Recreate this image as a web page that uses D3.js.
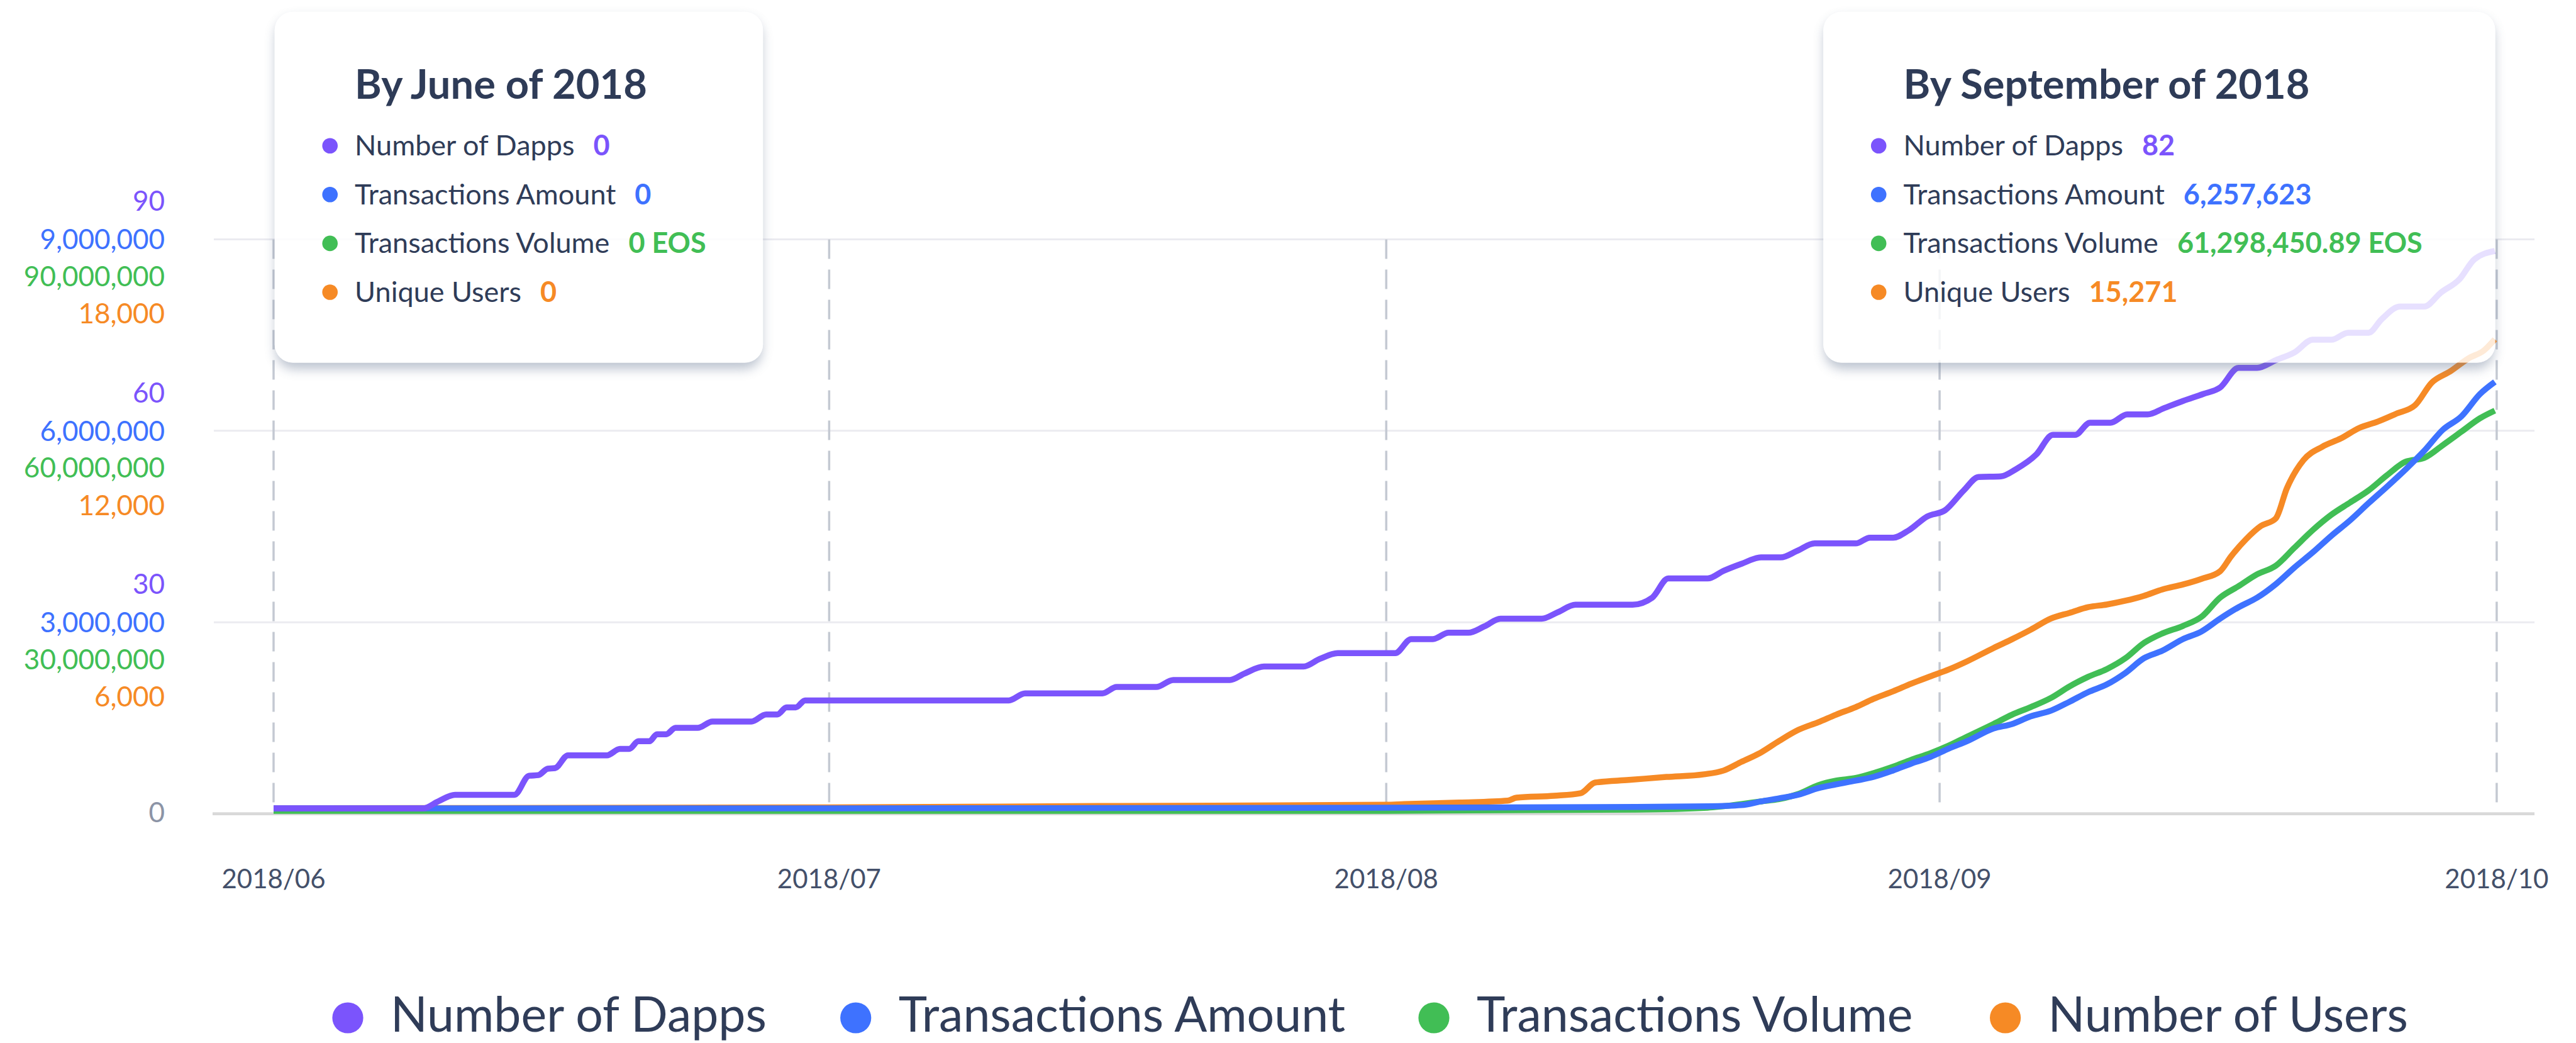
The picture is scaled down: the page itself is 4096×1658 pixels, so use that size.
<!DOCTYPE html>
<html><head><meta charset="utf-8">
<script src="https://cdn.jsdelivr.net/npm/d3@7/dist/d3.min.js"></script>
<style>
html,body{margin:0;padding:0;background:#fff;}
svg{display:block;font-family:Lato,"Open Sans",sans-serif;}
</style>
</head><body>
<svg id="chart" width="4096" height="1658"></svg>
<script>
// ---------- data ----------
const monthLabels = ["2018/06", "2018/07", "2018/08", "2018/09", "2018/10"];
const monthDays = [0, 30, 61, 92, 122];           // days since 2018-06-01
const seriesNames = ["Number of Dapps", "Transactions Amount", "Transactions Volume", "Number of Users"];
const seriesColors = ["#7b54fc", "#3e72ff", "#41be55", "#f68a25"];
const axisMax = [90, 9000000, 90000000, 18000];
const axisFractions = [1/3, 2/3, 1];

// [day, number of dapps]
const dapps = [[0,0],[8.1,0],[8.9,1.1],[9.8,2.1],[13.0,2.1],[13.8,5.1],[14.3,5.2],[14.8,6.2],[15.2,6.3],[15.9,8.3],[18.0,8.3],[18.7,9.3],[19.2,9.3],[19.7,10.5],[20.3,10.5],[20.7,11.6],[21.2,11.6],[21.7,12.6],[22.9,12.6],[23.7,13.6],[25.8,13.6],[26.6,14.7],[27.2,14.7],[27.7,15.8],[28.2,15.8],[28.7,16.9],[40.0,16.9],[40.9,18.0],[45.2,18.0],[46.0,19.0],[48.2,19.0],[49.15,20.1],[52.3,20.1],[53.1,21.1],[54.2,22.2],[56.4,22.2],[57.3,23.4],[58.3,24.3],[61.5,24.3],[62.4,26.5],[63.6,26.5],[64.5,27.5],[65.6,27.5],[66.5,28.5],[67.4,29.7],[69.7,29.7],[70.6,30.7],[71.6,31.9],[74.8,31.9],[75.9,33.0],[76.8,36.0],[79.0,36.0],[79.9,37.2],[80.9,38.3],[82.0,39.3],[83.1,39.3],[84.0,40.3],[85.0,41.5],[87.3,41.5],[88.1,42.4],[89.4,42.4],[90.3,43.6],[91.3,45.7],[92.3,46.7],[93.3,49.8],[94.1,51.9],[95.3,52.0],[96.1,53.1],[97.2,55.4],[98.1,58.5],[99.3,58.5],[100.1,60.4],[101.2,60.4],[102.1,61.7],[103.2,61.7],[104.1,62.7],[105.1,63.8],[106.2,64.9],[107.1,65.9],[108.1,69.0],[109.1,69.0],[110.1,70.2],[111.1,71.4],[112.1,73.4],[113.1,73.4],[114.0,74.5],[115.1,74.5],[115.8,76.6],[116.8,78.6],[118.1,78.6],[119.0,80.8],[120.0,82.9],[120.8,86.0],[121.9,87.3]];

// [day, transactions amount in millions]
const txAmountM = [[0,0],[30,0],[61,0.01],[75,0.02],[79,0.03],[80.9,0.05],[82.0,0.108],[83.0,0.156],[84.1,0.215],[85.2,0.315],[86.2,0.374],[87.3,0.433],[88.3,0.492],[89.4,0.593],[90.4,0.699],[91.5,0.806],[92.5,0.936],[93.5,1.054],[94.9,1.25],[95.9,1.32],[96.9,1.44],[98.0,1.53],[99.0,1.67],[100.0,1.82],[101.0,1.94],[102.0,2.12],[103.0,2.35],[104.0,2.47],[105.1,2.65],[106.1,2.77],[107.1,2.97],[108.1,3.15],[109.1,3.30],[110.1,3.51],[111.1,3.77],[112.1,4.01],[113.1,4.27],[114.1,4.51],[115.1,4.78],[116.1,5.04],[117.1,5.31],[118.1,5.60],[119.1,5.93],[120.1,6.14],[121.1,6.49],[121.9,6.68]];

// [day, transactions volume in millions of EOS]
const txVolumeM = [[0,0],[61,0],[75,0.2],[79,0.5],[80.9,1.07],[82.0,1.48],[83.0,1.83],[84.1,2.66],[85.2,4.02],[86.2,4.73],[87.3,5.15],[88.3,5.91],[89.4,6.92],[90.4,7.98],[91.5,9.05],[92.5,10.23],[93.5,11.65],[94.9,13.6],[95.9,15.07],[96.9,16.25],[98.0,17.7],[99.0,19.5],[100.0,21.0],[101.0,22.2],[102.0,23.9],[103.0,26.3],[104.0,27.8],[105.1,28.97],[106.1,30.4],[107.1,33.4],[108.1,35.2],[109.1,37.06],[110.1,38.4],[111.1,41.2],[112.1,44.0],[113.1,46.4],[114.1,48.3],[115.1,50.2],[116.1,52.6],[117.1,54.7],[118.1,55.3],[119.1,57.3],[120.1,59.4],[121.1,61.5],[121.9,62.7]];

// [day, unique users]
const users = [[0,0],[30,30],[45,70],[61,110],[62,132],[65.1,179],[67.8,238],[68.3,333],[70.4,392],[71.9,475],[72.7,805],[74.6,888],[76.7,982],[78.8,1065],[79.9,1183],[80.9,1455],[82.0,1751],[83.0,2106],[84.1,2460],[85.2,2696],[86.2,2933],[87.3,3169],[88.3,3429],[89.4,3666],[90.4,3902],[91.5,4138],[92.5,4351],[93.5,4611],[94.9,5020],[95.9,5297],[96.9,5592],[98.0,5947],[99.0,6124],[100.0,6302],[101.0,6384],[102.0,6502],[103.0,6656],[104.0,6857],[105.1,7011],[106.1,7188],[107.1,7424],[107.7,7897],[108.5,8429],[109.3,8843],[110.1,9079],[110.7,10025],[111.6,10911],[112.6,11325],[113.6,11585],[114.6,11916],[115.6,12117],[116.6,12365],[117.6,12625],[118.5,13334],[119.5,13689],[120.5,14103],[121.3,14339],[121.9,14694]];

const tipLabels = ["Number of Dapps", "Transactions Amount", "Transactions Volume", "Unique Users"];
const tipJuneTitle = "By June of 2018";
const tipJuneValues = ["0", "0", "0 EOS", "0"];
const tipSepTitle = "By September of 2018";
const tipSepValues = ["82", "6,257,623", "61,298,450.89 EOS", "15,271"];

// ---------- layout ----------
const svg = d3.select("#chart");
const W = 4096, H = 1658;
const yTop = 380.4, yBot = 1293.7;
const x = d3.scaleLinear().domain(monthDays).range([435.0, 1318.4, 2204.2, 3084.1, 3969.9]);
const ys = axisMax.map(m => d3.scaleLinear().domain([0, m]).range([yBot, yTop]));

const series = [
  dapps,
  txAmountM.map(d => [d[0], d[1] * 1e6]),
  txVolumeM.map(d => [d[0], d[1] * 1e6]),
  users
];
const lift = [8.8, 8.8, 4.7, 8.8];
const fmt = d3.format(",");

svg.append("rect").attr("width", W).attr("height", H).attr("fill", "#fff");

const defs = svg.append("defs");
defs.append("filter").attr("id", "blur").attr("x", "-20%").attr("y", "-20%").attr("width", "140%").attr("height", "140%")
  .append("feGaussianBlur").attr("stdDeviation", 9);

// gridlines
const grid = svg.append("g");
axisFractions.forEach(f => {
  const gy = ys[0](axisMax[0] * f);
  grid.append("line").attr("x1", 340).attr("x2", 4030).attr("y1", gy).attr("y2", gy)
    .attr("stroke", "#ebebf0").attr("stroke-width", 3);
});
// dashed month lines
monthDays.forEach(d => {
  grid.append("line").attr("x1", x(d)).attr("x2", x(d)).attr("y1", yTop).attr("y2", yBot - 4)
    .attr("stroke", "#c4c9d2").attr("stroke-width", 3.5).attr("stroke-dasharray", "31 17");
});
// baseline
grid.append("line").attr("x1", 338).attr("x2", 4030).attr("y1", yBot).attr("y2", yBot)
  .attr("stroke", "#d9d9d9").attr("stroke-width", 4.7);

// y labels
const ylab = svg.append("g").attr("font-size", 44).attr("text-anchor", "end");
const labOffsets = [-61, 0, 58.7, 118];
axisFractions.forEach(f => {
  const gy = ys[0](axisMax[0] * f);
  axisMax.forEach((m, i) => {
    ylab.append("text").attr("x", 262).attr("y", gy + labOffsets[i]).attr("dy", "0.36em")
      .attr("fill", seriesColors[i]).text(fmt(Math.round(m * f)));
  });
});
ylab.append("text").attr("x", 262).attr("y", yBot - 3).attr("dy", "0.36em").attr("fill", "#8c94a6").text("0");

// x labels
const xlab = svg.append("g").attr("font-size", 42).attr("text-anchor", "middle").attr("fill", "#44506a");
monthDays.forEach((d, i) => {
  xlab.append("text").attr("x", x(d)).attr("y", 1412).text(monthLabels[i]);
});

// lines
const linesG = svg.append("g");
[3, 2, 1, 0].forEach(i => {
  const line = d3.line().x(d => x(d[0])).y(d => ys[i](d[1])).curve(d3.curveMonotoneX);
  linesG.append("path").datum(series[i]).attr("d", line)
    .attr("transform", `translate(0,${-lift[i]})`)
    .attr("fill", "none").attr("stroke", seriesColors[i]).attr("stroke-width", 9.5)
    .attr("stroke-linejoin", "round").attr("stroke-linecap", "butt");
});

// tooltips
function tooltip(bx, by, bw, bh, title, values, id) {
  const m = defs.append("mask").attr("id", "m" + id).attr("maskUnits", "userSpaceOnUse")
    .attr("x", 0).attr("y", 0).attr("width", W).attr("height", H);
  m.append("rect").attr("width", W).attr("height", H).attr("fill", "#fff");
  m.append("rect").attr("x", bx).attr("y", by).attr("width", bw).attr("height", bh).attr("rx", 29).attr("fill", "#000");
  const g = svg.append("g");
  g.append("rect").attr("x", bx + 2).attr("y", by + 10).attr("width", bw - 4).attr("height", bh).attr("rx", 29)
    .attr("fill", "#6a7a95").attr("opacity", 0.45).attr("filter", "url(#blur)").attr("mask", `url(#m${id})`);
  g.append("rect").attr("x", bx).attr("y", by).attr("width", bw).attr("height", bh).attr("rx", 29)
    .attr("fill", "#fff").attr("fill-opacity", 0.82);
  g.append("text").attr("x", bx + 127.4).attr("y", 156.5).attr("font-size", 65).attr("font-weight", 700)
    .attr("fill", "#2e3b57").text(title);
  tipLabels.forEach((lab, i) => {
    const base = 247.2 + i * 77.6;
    g.append("circle").attr("cx", bx + 88).attr("cy", base - 15.5).attr("r", 12.3).attr("fill", seriesColors[i]);
    const t = g.append("text").attr("x", bx + 127.4).attr("y", base).attr("font-size", 45)
      .attr("fill", "#2f3c58").text(lab);
    const w = t.node().getComputedTextLength();
    g.append("text").attr("x", bx + 127.4 + w + 30).attr("y", base).attr("font-size", 45).attr("font-weight", 700)
      .attr("fill", seriesColors[i]).text(values[i]);
  });
}
tooltip(436.7, 18.8, 776.5, 557.6, tipJuneTitle, tipJuneValues, 1);
tooltip(2899.2, 18.8, 1068.4, 557.6, tipSepTitle, tipSepValues, 2);

// legend (item anchors follow the reference layout)
const legendX = [553, 1360.7, 2280, 3188.6];
const leg = svg.append("g");
seriesNames.forEach((n, i) => {
  const g = leg.append("g").attr("transform", `translate(${legendX[i]},0)`);
  g.append("circle").attr("cx", 0).attr("cy", 1618).attr("r", 24.6).attr("fill", seriesColors[i]);
  g.append("text").attr("x", 68).attr("y", 1640.4).attr("font-size", 77).attr("fill", "#2f3c58").text(n);
});
</script>
</body></html>
